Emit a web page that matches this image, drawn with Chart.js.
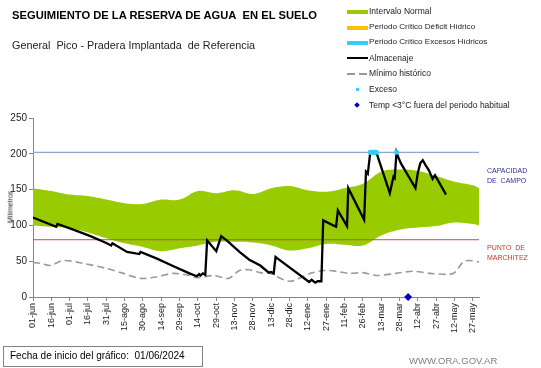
<!DOCTYPE html>
<html lang="es">
<head>
<meta charset="utf-8">
<title>Seguimiento de la reserva de agua en el suelo</title>
<script src="https://cdn.jsdelivr.net/npm/chart.js@4.4.1/dist/chart.umd.min.js"></script>
<style>
    html, body { margin: 0; padding: 0; background: #ffffff; }
    #contenedor { position: relative; width: 541px; height: 368px; overflow: hidden; font-family: "Liberation Sans", Arial, sans-serif; }
    #grafico { position: absolute; left: 0; top: 0; }
    .txt { position: absolute; white-space: nowrap; line-height: 1; }
    .ley { position: absolute; left: 369px; font-size: 8.5px; color: #222; white-space: nowrap; line-height: 1; }
    .sim { position: absolute; }
</style>
</head>
<body>
<div id="contenedor">
    <canvas id="grafico" width="541" height="368"></canvas>

    <div class="txt" style="left:12px; top:10px; font-size:11.2px; font-weight:bold; color:#000;">SEGUIMIENTO DE LA RESERVA DE AGUA&nbsp; EN EL SUELO</div>
    <div class="txt" style="left:12px; top:40px; font-size:10.8px; color:#222;">General&nbsp; Pico - Pradera Implantada&nbsp; de Referencia</div>

    <!-- Título del eje Y -->
    <div class="txt" style="left:10px; top:207px; font-size:7px; color:#222; transform:translate(-50%, -50%) rotate(-90deg);">Milímetros</div>

    <!-- Leyenda -->
    <div class="sim" style="left:347px; top:10px; width:21px; height:4px; background:#99cc00;"></div>
    <div class="ley" style="top:7px;">Intervalo Normal</div>
    <div class="sim" style="left:347px; top:26px; width:21px; height:4px; background:#ffc000;"></div>
    <div class="ley" style="top:23px; font-size:8.1px;">Periodo Crítico Déficit Hídrico</div>
    <div class="sim" style="left:347px; top:41px; width:21px; height:4px; background:#33ccff;"></div>
    <div class="ley" style="top:38px; font-size:8.1px;">Periodo Crítico Excesos Hídricos</div>
    <div class="sim" style="left:347px; top:57px; width:21px; height:2px; background:#000;"></div>
    <div class="ley" style="top:54px;">Almacenaje</div>
    <div class="sim" style="left:347px; top:73px; width:8px; height:2px; background:#999;"></div>
    <div class="sim" style="left:359px; top:73px; width:8px; height:2px; background:#999;"></div>
    <div class="ley" style="top:69px;">Mínimo histórico</div>
    <div class="sim" style="left:356px; top:88px; width:3px; height:3px; background:#33ccff;"></div>
    <div class="ley" style="top:85px;">Exceso</div>
    <div class="sim" style="left:355px; top:103px; width:4px; height:4px; background:#0000cc; transform:rotate(45deg);"></div>
    <div class="ley" style="top:101px;">Temp &lt;3°C fuera del periodo habitual</div>

    <!-- Etiquetas a la derecha -->
    <div class="txt" style="left:487px; top:166px; font-size:7px; color:#2e3192; line-height:10px;">CAPACIDAD<br>DE&nbsp; CAMPO</div>
    <div class="txt" style="left:487px; top:243px; font-size:7px; color:#cc3333; line-height:10px;">PUNTO&nbsp; DE<br>MARCHITEZ</div>

    <!-- Pie -->
    <div class="txt" style="left:3px; top:346px; width:198px; height:19px; border:1px solid #8c7f7f;"></div>
    <div class="txt" style="left:10px; top:351px; font-size:10px; color:#000;">Fecha de inicio del gráfico:&nbsp; 01/06/2024</div>
    <div class="txt" style="left:409px; top:356px; font-size:9.5px; color:#7f7f7f;">WWW.ORA.GOV.AR</div>
</div>

<script>
// Datos del gráfico (días desde 01/06/2024)
const etiquetasX = ['01-jun', '16-jun', '01-jul', '16-jul', '31-jul', '15-ago', '30-ago', '14-sep', '29-sep',
    '14-oct', '29-oct', '13-nov', '28-nov', '13-dic', '28-dic', '12-ene', '27-ene', '11-feb', '26-feb',
    '13-mar', '28-mar', '12-abr', '27-abr', '12-may', '27-may'];

// Intervalo normal (límites inferior y superior)
const diasBanda = [0, 15, 30, 45, 60, 75, 90, 105, 120, 135, 150, 165, 180, 195, 210, 225, 240, 255, 270, 285, 300, 315, 330, 345, 360, 365];
const bandaSuperior = [152, 148, 143, 141, 136, 131, 130, 136, 136, 148, 145, 149, 144, 152, 155, 149, 147, 152, 158, 175, 178, 176, 169, 161, 156, 152];
const bandaInferior = [100, 98, 96, 90, 82, 75, 70, 64, 68, 72, 77, 77, 76, 72, 65, 68, 74, 73, 72, 86, 94, 97, 99, 104, 102, 100];

// Mínimo histórico
const diasMinimo = [0, 6, 14, 25, 41, 60, 74, 88, 101, 115, 128, 134, 148, 160, 169, 177, 186, 194, 210, 227, 238, 248, 259, 270, 281, 297, 311, 325, 344, 352, 357, 365];
const minimoHistorico = [48, 47, 44, 51, 47, 40, 33, 26, 28, 33, 30, 27, 30, 26, 37, 38, 34, 33, 22, 33, 37, 36, 33, 34, 30, 33, 36, 33, 33, 49, 51, 49];

// Almacenaje
const diasAlmacenaje = [0, 19, 20, 33, 47, 60, 64, 65, 77, 87, 88, 101, 115, 128, 134, 136, 137, 139, 141, 142.5,
    150, 154, 158.5, 169, 177, 186, 193, 195, 197, 198.5, 200, 226, 228, 231, 233, 236, 237.5, 248, 249.5, 257,
    258, 271, 272.5, 274, 276, 281, 292, 295, 296, 297.5, 299, 301, 313, 315, 317, 319, 321, 324, 327, 329, 338];
const almacenaje = [111, 98, 102, 94, 85, 75.5, 72, 75, 63, 60, 63, 54, 43, 33, 29, 32, 30, 33, 31, 79,
    64, 85, 79, 63, 52, 44, 34, 35, 33, 56, 54, 21, 24, 20, 22, 22, 107, 98, 121, 99,
    152, 108, 175, 172, 202, 202, 145, 168, 166, 202, 195, 187, 152, 174, 187, 191, 185, 177, 165, 170, 143];

// Excesos y heladas fuera de época
const diasExceso = [276, 277, 278, 279, 280, 281, 297.5];
const valoresExceso = [202, 202, 202, 202, 202, 202, 202];
const diasHelada = [307];
const valoresHelada = [0];

// Umbrales
const capacidadCampo = 202;
const puntoMarchitez = 80;
const diaFinal = 365;

// Función para armar pares {x, y}
function pares(dias, valores) {
    return dias.map(function (d, i) { return { x: d, y: valores[i] }; });
}

const ctx = document.getElementById('grafico').getContext('2d');

const grafico = new Chart(ctx, {
    type: 'line',
    data: {
        datasets: [
            {
                label: 'Inferior',
                data: pares(diasBanda, bandaInferior),
                borderWidth: 0,
                pointRadius: 0,
                tension: 0.4,
                fill: false,
                order: 6
            },
            {
                label: 'Intervalo Normal',
                data: pares(diasBanda, bandaSuperior),
                borderWidth: 0,
                pointRadius: 0,
                tension: 0.4,
                backgroundColor: '#99cc00',
                fill: '-1',
                order: 5
            },
            {
                label: 'Capacidad de campo',
                data: pares([0, diaFinal], [capacidadCampo, capacidadCampo]),
                borderColor: '#8ea4d2',
                borderWidth: 1.2,
                pointRadius: 0,
                order: 4
            },
            {
                label: 'Punto de marchitez',
                data: pares([0, diaFinal], [puntoMarchitez, puntoMarchitez]),
                borderColor: '#c0504d',
                borderWidth: 1,
                pointRadius: 0,
                order: 4
            },
            {
                label: 'Mínimo histórico',
                data: pares(diasMinimo, minimoHistorico),
                borderColor: '#9a9a9a',
                borderWidth: 1.6,
                borderDash: [7, 4],
                pointRadius: 0,
                tension: 0.3,
                order: 3
            },
            {
                label: 'Almacenaje',
                data: pares(diasAlmacenaje, almacenaje),
                borderColor: '#000000',
                borderWidth: 2.3,
                pointRadius: 0,
                tension: 0,
                order: 2
            },
            {
                label: 'Exceso',
                data: pares(diasExceso, valoresExceso),
                showLine: false,
                pointRadius: 2.5,
                pointBackgroundColor: '#33ccff',
                pointBorderWidth: 0,
                order: 1
            },
            {
                label: 'Temp <3°C fuera del periodo habitual',
                data: pares(diasHelada, valoresHelada),
                showLine: false,
                pointStyle: 'rectRot',
                pointRadius: 4,
                pointBackgroundColor: '#0000cc',
                pointBorderWidth: 0,
                clip: false,
                order: 0
            }
        ]
    },
    options: {
        responsive: false,
        animation: false,
        devicePixelRatio: 1,
        layout: { padding: { left: 0, top: 118, right: 62, bottom: 0 } },
        plugins: {
            legend: { display: false },
            tooltip: { enabled: false }
        },
        scales: {
            x: {
                type: 'linear',
                min: 0,
                max: diaFinal,
                afterBuildTicks: function (scale) {
                    scale.ticks = etiquetasX.map(function (e, i) { return { value: i * 15 }; });
                },
                afterFit: function (scale) { scale.height = 71; },
                grid: { drawOnChartArea: false, drawTicks: true, tickLength: 4, color: '#868686' },
                border: { color: '#868686', width: 1 },
                ticks: {
                    autoSkip: false,
                    minRotation: 90,
                    maxRotation: 90,
                    padding: 2,
                    color: '#222',
                    font: { family: 'Liberation Sans', size: 9 },
                    callback: function (valor) { return etiquetasX[Math.round(valor / 15)]; }
                }
            },
            y: {
                min: 0,
                max: 250,
                afterFit: function (scale) { scale.width = 33; },
                grid: { drawOnChartArea: false, drawTicks: true, tickLength: 4, color: '#868686' },
                border: { color: '#868686', width: 1 },
                ticks: {
                    stepSize: 50,
                    padding: 2,
                    color: '#222',
                    font: { family: 'Liberation Sans', size: 10 }
                }
            }
        }
    }
});
</script>
</body>
</html>
